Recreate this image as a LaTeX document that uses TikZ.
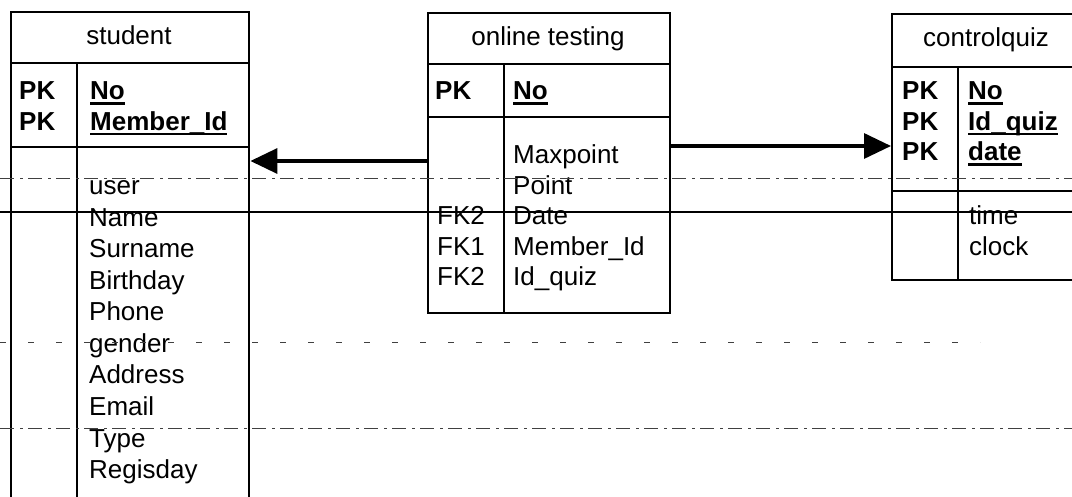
\documentclass[tikz,border=0pt]{standalone}
\usepackage{fontspec}
\setmainfont{Liberation Sans}
\usetikzlibrary{arrows.meta}
\newcommand\pkul[1]{\setbox0\hbox{#1}\rlap{\rule[-5pt]{\wd0}{2.5pt}}\box0}
\begin{document}
\begin{tikzpicture}[x=1pt,y=-1pt,
  tbl/.style={draw, line width=2.4pt, anchor=north west, inner sep=0pt},
  sep/.style={line width=2.3pt},
  txt/.style={anchor=base west, inner sep=0pt, font=\fontsize{26}{30}\selectfont},
  ttl/.style={anchor=base, inner sep=0pt, font=\fontsize{26}{30}\selectfont},
  bf/.style={txt, font=\fontsize{26}{30}\selectfont\bfseries},
  arr/.style={line width=3.3pt, -{Triangle[length=27pt,width=25pt]}},
  noise/.style={line width=0.9pt, black!75, dash pattern=on 14pt off 6pt on 3pt off 5pt},
]
\useasboundingbox (0,0) rectangle (1072,497);
\fill[white] (0,0) rectangle (1072,497);

% ---------- student ----------
\node[tbl, minimum width=238pt, minimum height=520pt] (st) at (10,11) {};
\draw[sep] (st.west |- 0,63) -- (st.east |- 0,63);
\draw[sep] (st.west |- 0,147) -- (st.east |- 0,147);
\draw[sep] (77,63) -- (77,531);
\node[ttl] (stt) at (129,45) {student};
\node[bf] (stpk1) at (19,100) {PK};
\node[bf] (stpk2) at (19,130.5) {PK};
\node[bf] (stk1) at (90,100) {\pkul{No}};
\node[bf] (stk2) at (90,130.5) {\pkul{Member\_Id}};
\foreach \t [count=\i from 0] in {user,Name,Surname,Birthday,Phone,gender,Address,Email,Type,Regisday}
  \node[txt] (sta\i) at (89,195+31.5*\i) {\t};

% ---------- online testing ----------
\node[tbl, minimum width=242pt, minimum height=300pt] (ot) at (427,12) {};
\draw[sep] (ot.west |- 0,64) -- (ot.east |- 0,64);
\draw[sep] (ot.west |- 0,117) -- (ot.east |- 0,117);
\draw[sep] (504,64) -- (504,312);
\node[ttl] (ott) at (548,46) {online testing};
\node[bf] (otpk) at (435,100) {PK};
\node[bf] (otk) at (513,100) {\pkul{No}};
\node[txt] (ota0) at (513,164) {Maxpoint};
\node[txt] (ota1) at (513,194.5) {Point};
\node[txt] (ota2) at (513,225) {Date};
\node[txt] (ota3) at (513,255.5) {Member\_Id};
\node[txt] (ota4) at (513,286) {Id\_quiz};
\node[txt] (otf2) at (437,225) {FK2};
\node[txt] (otf3) at (437,255.5) {FK1};
\node[txt] (otf4) at (437,286) {FK2};

% ---------- controlquiz ----------
\node[tbl, minimum width=191pt, minimum height=266pt] (cq) at (891,13) {};
\draw[sep] (cq.west |- 0,67) -- (cq.east |- 0,67);
\draw[sep] (cq.west |- 0,191) -- (cq.east |- 0,191);
\draw[sep] (958,67) -- (958,279);
\node[ttl] (cqt) at (986,47) {controlquiz};
\node[bf] (cqpk1) at (902,100) {PK};
\node[bf] (cqpk2) at (902,130.5) {PK};
\node[bf] (cqpk3) at (902,161) {PK};
\node[bf] (cqk1) at (968,100) {\pkul{No}};
\node[bf] (cqk2) at (968,130.5) {\pkul{Id\_quiz}};
\node[bf] (cqk3) at (968,161) {\pkul{date}};
\node[txt] (cqa1) at (969,225) {time};
\node[txt] (cqa2) at (969,255.5) {clock};

% ---------- connectors ----------
\draw[arr] (ot.west |- 0,161) -- (st.east |- 0,161);
\draw[arr] (ot.east |- 0,146) -- (cq.west |- 0,146);

% ---------- scan ruling lines ----------
\draw[noise] (0,178) -- (1072,178);
\draw[line width=1.3pt] (0,212) -- (1072,212);
\draw[noise, dash pattern=on 6pt off 22pt] (0,342) -- (980,342);
\draw[noise] (0,428) -- (1072,428);
\end{tikzpicture}
\end{document}
